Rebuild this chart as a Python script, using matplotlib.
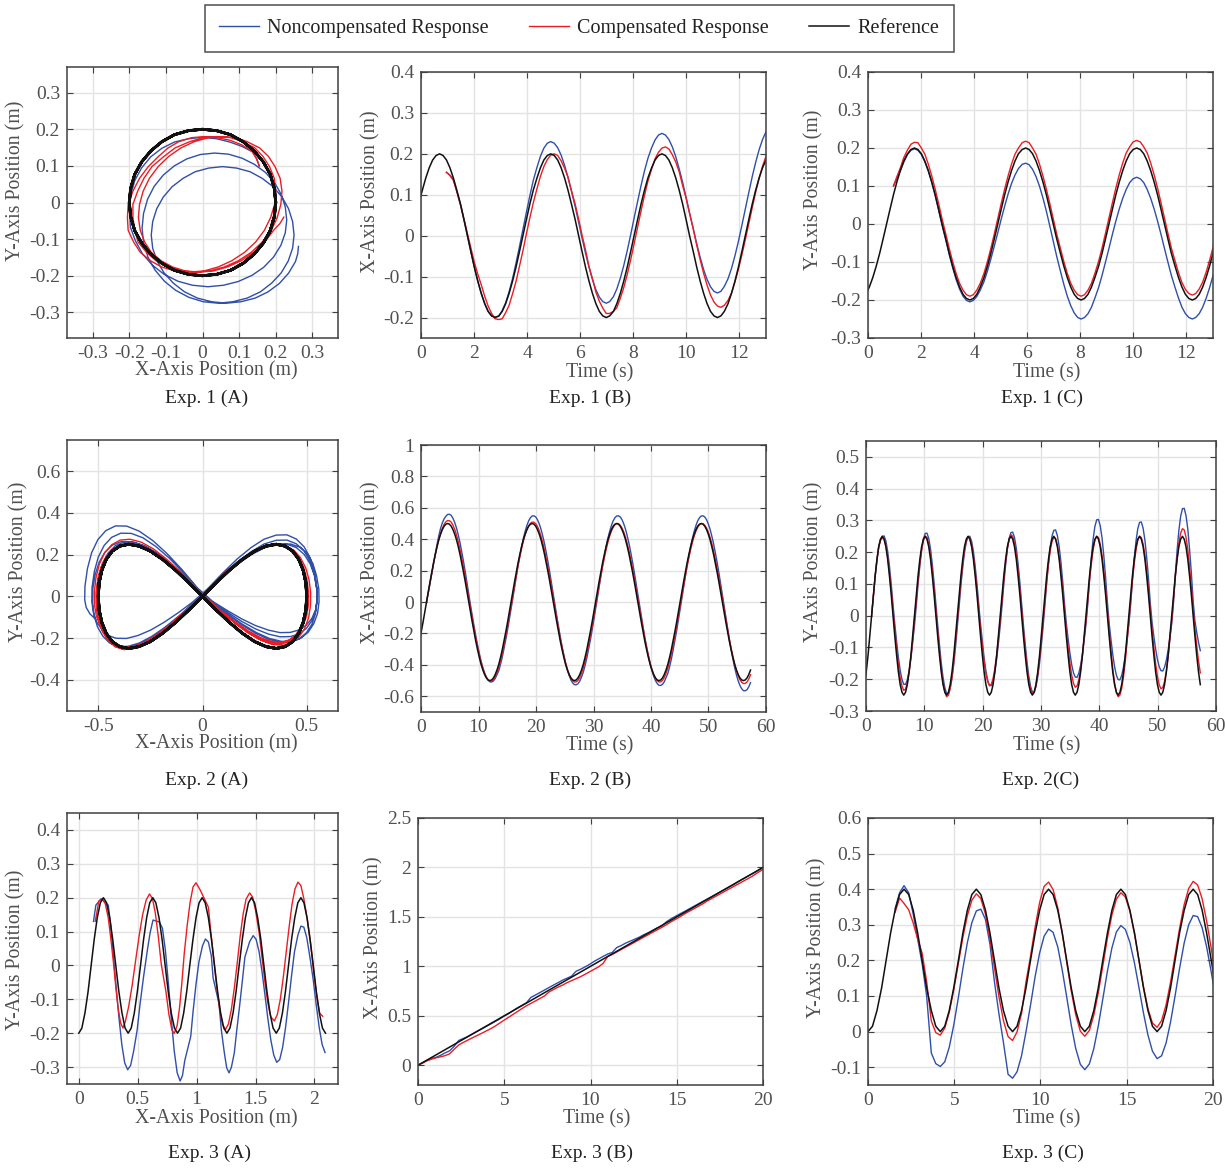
import numpy as np
import matplotlib
matplotlib.use("Agg")
import matplotlib.pyplot as plt
from matplotlib.ticker import FormatStrFormatter

plt.rcParams['font.family'] = ['Liberation Serif', 'DejaVu Serif']
plt.rcParams['axes.unicode_minus'] = False

BLUE = '#2f4fa8'
RED = '#ec1c24'
BLACK = '#111111'
GREY = '#505050'

# ---------------- Exp. 1 : circle ----------------
t1 = [-0.09, 0.05, 0.18, 0.31, 0.44, 0.57,
      0.70, 0.83, 0.96, 1.09, 1.22, 1.35, 1.49, 1.62, 1.75, 1.88,
      2.01, 2.14, 2.27, 2.40, 2.53, 2.66, 2.79, 2.93, 3.06, 3.19,
      3.32, 3.45, 3.58, 3.71, 3.84, 3.97, 4.10, 4.23, 4.37, 4.50,
      4.63, 4.76, 4.89, 5.02, 5.15, 5.28, 5.41, 5.54, 5.67, 5.81,
      5.94, 6.07, 6.20, 6.33, 6.46, 6.59, 6.72, 6.85, 6.98, 7.11,
      7.25, 7.38, 7.51, 7.64, 7.77, 7.90, 8.03, 8.16, 8.29, 8.42,
      8.55, 8.69, 8.82, 8.95, 9.08, 9.21, 9.34, 9.47, 9.60, 9.73,
      9.86, 9.99, 10.12, 10.26, 10.39, 10.52, 10.65, 10.78, 10.91, 11.04,
      11.17, 11.30, 11.43, 11.57, 11.70, 11.83, 11.96, 12.09, 12.22, 12.35,
      12.48, 12.61, 12.74, 12.87, 13.00, 13.14, 13.27]
x1_ref = [0.077, 0.111, 0.141, 0.166, 0.185, 0.196,
          0.2, 0.196, 0.185, 0.166, 0.141, 0.111, 0.077, 0.039, 0, -0.039, -0.077, -0.111, -0.141, -0.166, -0.185, -0.196,
          -0.2, -0.196, -0.185, -0.166, -0.141, -0.111, -0.077, -0.039, 0, 0.039, 0.077, 0.111, 0.141, 0.166, 0.185, 0.196,
          0.2, 0.196, 0.185, 0.166, 0.141, 0.111, 0.077, 0.039, 0, -0.039, -0.077, -0.111, -0.141, -0.166, -0.185, -0.196,
          -0.2, -0.196, -0.185, -0.166, -0.141, -0.111, -0.077, -0.039, 0, 0.039, 0.077, 0.111, 0.141, 0.166, 0.185, 0.196,
          0.2, 0.196, 0.185, 0.166, 0.141, 0.111, 0.077, 0.039, 0, -0.039, -0.077, -0.111, -0.141, -0.166, -0.185, -0.196,
          -0.2, -0.196, -0.185, -0.166, -0.141, -0.111, -0.077, -0.039, 0, 0.039, 0.077, 0.111, 0.141, 0.166, 0.185, 0.196,
          0.2]
y1_ref = [-0.185, -0.166, -0.141, -0.111, -0.077, -0.039,
          0, 0.039, 0.077, 0.111, 0.141, 0.166, 0.185, 0.196, 0.2, 0.196, 0.185, 0.166, 0.141, 0.111, 0.077, 0.039,
          0, -0.039, -0.077, -0.111, -0.141, -0.166, -0.185, -0.196, -0.2, -0.196, -0.185, -0.166, -0.141, -0.111, -0.077, -0.039,
          0, 0.039, 0.077, 0.111, 0.141, 0.166, 0.185, 0.196, 0.2, 0.196, 0.185, 0.166, 0.141, 0.111, 0.077, 0.039,
          0, -0.039, -0.077, -0.111, -0.141, -0.166, -0.185, -0.196, -0.2, -0.196, -0.185, -0.166, -0.141, -0.111, -0.077, -0.039,
          0, 0.039, 0.077, 0.111, 0.141, 0.166, 0.185, 0.196, 0.2, 0.196, 0.185, 0.166, 0.141, 0.111, 0.077, 0.039,
          0, -0.039, -0.077, -0.111, -0.141, -0.166, -0.185, -0.196, -0.2, -0.196, -0.185, -0.166, -0.141, -0.111, -0.077, -0.039,
          0]
x1_comp = [0.155, 0.147, 0.135, 0.108, 0.075, 0.04, 0.005, -0.03, -0.065, -0.094,
           -0.12, -0.148, -0.172, -0.19, -0.203, -0.205, -0.203, -0.188, -0.17, -0.142,
           -0.112, -0.075, -0.037, 0.004, 0.043, 0.08, 0.115, 0.145, 0.169, 0.186,
           0.197, 0.2, 0.196, 0.183, 0.165, 0.143, 0.11, 0.077, 0.04, 0.001,
           -0.035, -0.075, -0.105, -0.138, -0.16, -0.177, -0.19, -0.19, -0.185, -0.176,
           -0.153, -0.127, -0.095, -0.059, -0.02, 0.02, 0.06, 0.098, 0.133, 0.163,
           0.188, 0.204, 0.214, 0.217, 0.212, 0.198, 0.18, 0.156, 0.122, 0.092,
           0.055, 0.016, -0.023, -0.059, -0.092, -0.121, -0.145, -0.162, -0.172, -0.175,
           -0.17, -0.158, -0.14, -0.113, -0.082, -0.047, -0.01, 0.029, 0.068, 0.106,
           0.14, 0.17, 0.194, 0.211, 0.222]
x1_nc = [0.155, 0.148, 0.137, 0.108, 0.075, 0.039, 0.0, -0.039, -0.077, -0.111,
         -0.141, -0.166, -0.185, -0.196, -0.199, -0.197, -0.183, -0.164, -0.137, -0.105,
         -0.067, -0.027, 0.015, 0.057, 0.097, 0.135, 0.167, 0.194, 0.214, 0.226,
         0.23, 0.226, 0.215, 0.197, 0.172, 0.142, 0.108, 0.071, 0.033, -0.006,
         -0.043, -0.077, -0.107, -0.132, -0.15, -0.161, -0.165, -0.161, -0.149, -0.13,
         -0.104, -0.073, -0.037, 0.002, 0.043, 0.083, 0.122, 0.158, 0.189, 0.215,
         0.234, 0.246, 0.25, 0.246, 0.235, 0.217, 0.193, 0.163, 0.13, 0.093,
         0.055, 0.017, -0.02, -0.053, -0.083, -0.107, -0.125, -0.136, -0.14, -0.136,
         -0.124, -0.105, -0.08, -0.049, -0.014, 0.025, 0.065, 0.105, 0.144, 0.179,
         0.21, 0.235, 0.254, 0.26, 0.262]
y1_comp = [0.10, 0.125, 0.148, 0.175, 0.195, 0.21, 0.215, 0.214, 0.2, 0.184,
           0.158, 0.127, 0.092, 0.054, 0.014, -0.026, -0.064, -0.099, -0.13, -0.156,
           -0.174, -0.186, -0.19, -0.186, -0.174, -0.156, -0.13, -0.099, -0.064, -0.026,
           0.014, 0.054, 0.092, 0.127, 0.158, 0.184, 0.2, 0.214, 0.218, 0.214,
           0.2, 0.184, 0.158, 0.127, 0.092, 0.054, 0.014, -0.026, -0.064, -0.099,
           -0.13, -0.156, -0.174, -0.186, -0.19, -0.186, -0.174, -0.156, -0.13, -0.098,
           -0.063, -0.024, 0.016, 0.056, 0.095, 0.13, 0.161, 0.187, 0.203, 0.216,
           0.22, 0.216, 0.203, 0.187, 0.161, 0.13, 0.095, 0.056, 0.016, -0.024,
           -0.063, -0.097, -0.128, -0.154, -0.172, -0.183, -0.187, -0.183, -0.171, -0.153,
           -0.127, -0.096, -0.062, -0.023, 0.017]
y1_nc = [0.10, 0.12, 0.14, 0.163, 0.183, 0.194, 0.198, 0.194, 0.183, 0.164,
         0.14, 0.11, 0.076, 0.037, -0.003, -0.042, -0.08, -0.115, -0.146, -0.171,
         -0.19, -0.201, -0.205, -0.201, -0.191, -0.174, -0.152, -0.124, -0.092, -0.058,
         -0.023, 0.013, 0.047, 0.079, 0.107, 0.129, 0.146, 0.157, 0.16, 0.156,
         0.144, 0.125, 0.1, 0.069, 0.034, -0.005, -0.045, -0.085, -0.124, -0.159,
         -0.19, -0.215, -0.234, -0.246, -0.25, -0.246, -0.236, -0.219, -0.195, -0.167,
         -0.135, -0.1, -0.064, -0.027, 0.008, 0.04, 0.068, 0.091, 0.109, 0.119,
         0.123, 0.119, 0.109, 0.091, 0.068, 0.04, 0.008, -0.027, -0.064, -0.1,
         -0.135, -0.167, -0.195, -0.219, -0.236, -0.246, -0.25, -0.246, -0.236, -0.219,
         -0.196, -0.168, -0.136, -0.101, -0.065]
# Y values as they appear in the trajectory plot (A)
y1a_comp = [0.10, 0.12, 0.14, 0.157, 0.17, 0.177, 0.18, 0.177, 0.166, 0.149,
            0.126, 0.098, 0.066, 0.031, -0.005, -0.041, -0.076, -0.108, -0.136, -0.159,
            -0.176, -0.187, -0.19, -0.187, -0.176, -0.159, -0.136, -0.108, -0.076, -0.041,
            -0.005, 0.031, 0.066, 0.098, 0.126, 0.149, 0.166, 0.177, 0.18, 0.177,
            0.166, 0.149, 0.126, 0.098, 0.066, 0.031, -0.005, -0.041, -0.076, -0.108,
            -0.136, -0.159, -0.176, -0.187, -0.19, -0.187, -0.176, -0.159, -0.136, -0.108,
            -0.076, -0.041, -0.005, 0.031, 0.066, 0.098, 0.126, 0.149, 0.166, 0.177,
            0.18, 0.177, 0.166, 0.149, 0.126, 0.098, 0.066, 0.031, -0.005, -0.041,
            -0.076, -0.108, -0.136, -0.159, -0.176, -0.187, -0.19, -0.187, -0.176, -0.159,
            -0.136, -0.108, -0.076, -0.058, -0.04]
y1a_nc = [0.10, 0.12, 0.138, 0.153, 0.165, 0.174, 0.178, 0.174, 0.165, 0.148,
          0.125, 0.095, 0.06, 0.02, -0.02, -0.067, -0.105, -0.14, -0.171, -0.196,
          -0.215, -0.226, -0.23, -0.226, -0.216, -0.199, -0.177, -0.149, -0.117, -0.083,
          -0.048, -0.012, 0.022, 0.054, 0.082, 0.104, 0.121, 0.132, 0.135, 0.131,
          0.119, 0.1, 0.075, 0.044, 0.009, -0.03, -0.07, -0.11, -0.149, -0.184,
          -0.215, -0.24, -0.259, -0.271, -0.275, -0.271, -0.261, -0.244, -0.22, -0.192,
          -0.16, -0.125, -0.089, -0.052, -0.017, 0.015, 0.043, 0.066, 0.084, 0.094,
          0.098, 0.094, 0.084, 0.066, 0.043, 0.015, -0.017, -0.052, -0.089, -0.125,
          -0.16, -0.192, -0.22, -0.244, -0.261, -0.271, -0.275, -0.271, -0.261, -0.244,
          -0.221, -0.193, -0.161, -0.14, -0.12]

# ---------------- Exp. 2 : figure eight ----------------
t2 = [-0.27, 0.04, 0.35, 0.65,
      0.96, 1.27, 1.57, 1.88, 2.18, 2.49, 2.80, 3.10, 3.41, 3.72, 4.02, 4.33,
      4.63, 4.94, 5.25, 5.55, 5.86, 6.17, 6.47, 6.78, 7.08, 7.39, 7.70, 8.00,
      8.31, 8.62, 8.92, 9.23, 9.53, 9.84, 10.15, 10.45, 10.76, 11.07, 11.37, 11.68,
      11.98, 12.29, 12.60, 12.90, 13.21, 13.52, 13.82, 14.13, 14.43, 14.74, 15.05, 15.35,
      15.66, 15.97, 16.27, 16.58, 16.88, 17.19, 17.50, 17.80, 18.11, 18.42, 18.72, 19.03,
      19.33, 19.64, 19.95, 20.25, 20.56, 20.87, 21.17, 21.48, 21.78, 22.09, 22.40, 22.70,
      23.01, 23.32, 23.62, 23.93, 24.23, 24.54, 24.85, 25.15, 25.46, 25.77, 26.07, 26.38,
      26.68, 26.99, 27.30, 27.60, 27.91, 28.22, 28.52, 28.83, 29.13, 29.44, 29.75, 30.05,
      30.36, 30.67, 30.97, 31.28, 31.58, 31.89, 32.20, 32.50, 32.81, 33.12, 33.42, 33.73,
      34.03, 34.34, 34.65, 34.95, 35.26, 35.57, 35.87, 36.18, 36.48, 36.79, 37.10, 37.40,
      37.71, 38.02, 38.32, 38.63, 38.93, 39.24, 39.55, 39.85, 40.16, 40.47, 40.77, 41.08,
      41.38, 41.69, 42.00, 42.30, 42.61, 42.92, 43.22, 43.53, 43.83, 44.14, 44.45, 44.75,
      45.06, 45.37, 45.67, 45.98, 46.28, 46.59, 46.90, 47.20, 47.51, 47.82, 48.12, 48.43,
      48.73, 49.04, 49.35, 49.65, 49.96, 50.27, 50.57, 50.88, 51.18, 51.49, 51.80, 52.10,
      52.41, 52.72, 53.02, 53.33, 53.63, 53.94, 54.25, 54.55, 54.86, 55.17, 55.47, 55.78,
      56.08, 56.39, 56.70, 57.00, 57.31]
x2_ref = [-0.25, -0.191, -0.129, -0.065,
          0, 0.065, 0.129, 0.191, 0.25, 0.304, 0.354, 0.397, 0.433, 0.462, 0.483, 0.496,
          0.5, 0.496, 0.483, 0.462, 0.433, 0.397, 0.354, 0.304, 0.25, 0.191, 0.129, 0.065,
          0, -0.065, -0.129, -0.191, -0.25, -0.304, -0.354, -0.397, -0.433, -0.462, -0.483, -0.496,
          -0.5, -0.496, -0.483, -0.462, -0.433, -0.397, -0.354, -0.304, -0.25, -0.191, -0.129, -0.065,
          0, 0.065, 0.129, 0.191, 0.25, 0.304, 0.354, 0.397, 0.433, 0.462, 0.483, 0.496,
          0.5, 0.496, 0.483, 0.462, 0.433, 0.397, 0.354, 0.304, 0.25, 0.191, 0.129, 0.065,
          0, -0.065, -0.129, -0.191, -0.25, -0.304, -0.354, -0.397, -0.433, -0.462, -0.483, -0.496,
          -0.5, -0.496, -0.483, -0.462, -0.433, -0.397, -0.354, -0.304, -0.25, -0.191, -0.129, -0.065,
          0, 0.065, 0.129, 0.191, 0.25, 0.304, 0.354, 0.397, 0.433, 0.462, 0.483, 0.496,
          0.5, 0.496, 0.483, 0.462, 0.433, 0.397, 0.354, 0.304, 0.25, 0.191, 0.129, 0.065,
          0, -0.065, -0.129, -0.191, -0.25, -0.304, -0.354, -0.397, -0.433, -0.462, -0.483, -0.496,
          -0.5, -0.496, -0.483, -0.462, -0.433, -0.397, -0.354, -0.304, -0.25, -0.191, -0.129, -0.065,
          0, 0.065, 0.129, 0.191, 0.25, 0.304, 0.354, 0.397, 0.433, 0.462, 0.483, 0.496,
          0.5, 0.496, 0.483, 0.462, 0.433, 0.397, 0.354, 0.304, 0.25, 0.191, 0.129, 0.065,
          0, -0.065, -0.129, -0.191, -0.25, -0.304, -0.354, -0.397, -0.433, -0.462, -0.483, -0.496,
          -0.5, -0.496, -0.483, -0.462, -0.433]
y2_ref = [-0.217, -0.177, -0.125, -0.065,
          0, 0.065, 0.125, 0.177, 0.217, 0.241, 0.25, 0.241, 0.217, 0.177, 0.125, 0.065,
          0, -0.065, -0.125, -0.177, -0.217, -0.241, -0.25, -0.241, -0.217, -0.177, -0.125, -0.065,
          0, 0.065, 0.125, 0.177, 0.217, 0.241, 0.25, 0.241, 0.217, 0.177, 0.125, 0.065,
          0, -0.065, -0.125, -0.177, -0.217, -0.241, -0.25, -0.241, -0.217, -0.177, -0.125, -0.065,
          0, 0.065, 0.125, 0.177, 0.217, 0.241, 0.25, 0.241, 0.217, 0.177, 0.125, 0.065,
          0, -0.065, -0.125, -0.177, -0.217, -0.241, -0.25, -0.241, -0.217, -0.177, -0.125, -0.065,
          0, 0.065, 0.125, 0.177, 0.217, 0.241, 0.25, 0.241, 0.217, 0.177, 0.125, 0.065,
          0, -0.065, -0.125, -0.177, -0.217, -0.241, -0.25, -0.241, -0.217, -0.177, -0.125, -0.065,
          0, 0.065, 0.125, 0.177, 0.217, 0.241, 0.25, 0.241, 0.217, 0.177, 0.125, 0.065,
          0, -0.065, -0.125, -0.177, -0.217, -0.241, -0.25, -0.241, -0.217, -0.177, -0.125, -0.065,
          0, 0.065, 0.125, 0.177, 0.217, 0.241, 0.25, 0.241, 0.217, 0.177, 0.125, 0.065,
          0, -0.065, -0.125, -0.177, -0.217, -0.241, -0.25, -0.241, -0.217, -0.177, -0.125, -0.065,
          0, 0.065, 0.125, 0.177, 0.217, 0.241, 0.25, 0.241, 0.217, 0.177, 0.125, 0.065,
          0, -0.065, -0.125, -0.177, -0.217, -0.241, -0.25, -0.241, -0.217, -0.177, -0.125, -0.065,
          0, 0.065, 0.125, 0.177, 0.217, 0.241, 0.25, 0.241, 0.217, 0.177, 0.125, 0.065,
          0, -0.065, -0.125, -0.177, -0.217]
x2_nc = [0.0, 0.06, 0.12, 0.183, 0.245, 0.31, 0.37, 0.423, 0.47, 0.505, 0.53, 0.547,
         0.558, 0.559, 0.552, 0.534, 0.507, 0.472, 0.429, 0.379, 0.321, 0.259, 0.192, 0.121,
         0.049, -0.022, -0.089, -0.154, -0.216, -0.274, -0.328, -0.376, -0.418, -0.452, -0.479, -0.498,
         -0.508, -0.509, -0.502, -0.487, -0.462, -0.438, -0.398, -0.352, -0.298, -0.24, -0.178, -0.112,
         -0.045, 0.024, 0.096, 0.166, 0.233, 0.295, 0.354, 0.405, 0.45, 0.488, 0.517, 0.537,
         0.548, 0.549, 0.542, 0.525, 0.498, 0.464, 0.421, 0.372, 0.316, 0.254, 0.188, 0.119,
         0.048, -0.023, -0.092, -0.159, -0.223, -0.284, -0.34, -0.389, -0.432, -0.468, -0.496, -0.515,
         -0.526, -0.527, -0.52, -0.504, -0.478, -0.447, -0.406, -0.358, -0.304, -0.245, -0.181, -0.114,
         -0.046, 0.024, 0.096, 0.166, 0.233, 0.295, 0.354, 0.405, 0.45, 0.488, 0.517, 0.537,
         0.548, 0.549, 0.542, 0.525, 0.498, 0.464, 0.421, 0.372, 0.316, 0.254, 0.188, 0.119,
         0.048, -0.023, -0.093, -0.16, -0.225, -0.286, -0.342, -0.392, -0.436, -0.472, -0.5, -0.519,
         -0.53, -0.531, -0.524, -0.508, -0.482, -0.455, -0.414, -0.365, -0.31, -0.249, -0.185, -0.117,
         -0.048, 0.024, 0.096, 0.166, 0.233, 0.295, 0.354, 0.405, 0.45, 0.488, 0.517, 0.537,
         0.548, 0.549, 0.542, 0.525, 0.498, 0.464, 0.421, 0.372, 0.316, 0.254, 0.188, 0.119,
         0.048, -0.025, -0.098, -0.17, -0.239, -0.304, -0.364, -0.417, -0.464, -0.502, -0.532, -0.552,
         -0.564, -0.565, -0.558, -0.54, -0.513]
x2_comp = [0.0, 0.063, 0.125, 0.186, 0.245, 0.302, 0.355, 0.4, 0.44, 0.47, 0.495, 0.511,
           0.519, 0.518, 0.509, 0.49, 0.463, 0.428, 0.386, 0.337, 0.283, 0.224, 0.161, 0.095,
           0.027, -0.039, -0.105, -0.169, -0.229, -0.286, -0.338, -0.384, -0.424, -0.456, -0.48, -0.496,
           -0.505, -0.503, -0.494, -0.476, -0.45, -0.416, -0.375, -0.328, -0.275, -0.218, -0.156, -0.092,
           -0.026, 0.04, 0.106, 0.17, 0.232, 0.289, 0.341, 0.388, 0.428, 0.461, 0.485, 0.501,
           0.509, 0.508, 0.499, 0.481, 0.454, 0.42, 0.379, 0.331, 0.278, 0.22, 0.158, 0.093,
           0.027, -0.04, -0.106, -0.17, -0.232, -0.289, -0.341, -0.388, -0.428, -0.461, -0.485, -0.501,
           -0.509, -0.508, -0.499, -0.481, -0.454, -0.42, -0.379, -0.331, -0.278, -0.22, -0.158, -0.093,
           -0.026, 0.039, 0.104, 0.167, 0.227, 0.283, 0.335, 0.38, 0.42, 0.452, 0.476, 0.492,
           0.5, 0.499, 0.489, 0.472, 0.446, 0.412, 0.372, 0.325, 0.273, 0.216, 0.155, 0.091,
           0.026, -0.04, -0.106, -0.17, -0.232, -0.289, -0.341, -0.388, -0.428, -0.461, -0.485, -0.501,
           -0.509, -0.508, -0.499, -0.481, -0.454, -0.42, -0.379, -0.331, -0.278, -0.22, -0.158, -0.093,
           -0.026, 0.039, 0.104, 0.167, 0.227, 0.283, 0.335, 0.38, 0.42, 0.452, 0.476, 0.492,
           0.5, 0.499, 0.489, 0.472, 0.446, 0.412, 0.372, 0.325, 0.273, 0.216, 0.155, 0.091,
           0.026, -0.041, -0.108, -0.174, -0.236, -0.294, -0.348, -0.395, -0.436, -0.47, -0.495, -0.511,
           -0.519, -0.518, -0.509, -0.49, -0.463]
y2_nc = [0.0, 0.065, 0.125, 0.177, 0.217, 0.241, 0.25, 0.251, 0.235, 0.202, 0.156, 0.099,
         0.035, -0.027, -0.082, -0.131, -0.172, -0.201, -0.216, -0.216, -0.202, -0.174, -0.134, -0.085,
         -0.03, 0.032, 0.098, 0.158, 0.206, 0.241, 0.259, 0.26, 0.243, 0.209, 0.161, 0.102,
         0.036, -0.03, -0.093, -0.149, -0.195, -0.227, -0.245, -0.245, -0.229, -0.197, -0.152, -0.097,
         -0.034, 0.031, 0.095, 0.152, 0.199, 0.232, 0.249, 0.25, 0.234, 0.201, 0.155, 0.099,
         0.035, -0.027, -0.083, -0.134, -0.175, -0.204, -0.22, -0.22, -0.206, -0.177, -0.137, -0.087,
         -0.031, 0.032, 0.099, 0.16, 0.209, 0.244, 0.262, 0.263, 0.246, 0.212, 0.163, 0.104,
         0.037, -0.03, -0.091, -0.146, -0.191, -0.223, -0.24, -0.24, -0.224, -0.193, -0.149, -0.095,
         -0.034, 0.033, 0.102, 0.164, 0.214, 0.251, 0.269, 0.27, 0.252, 0.217, 0.168, 0.106,
         0.038, -0.024, -0.073, -0.117, -0.154, -0.18, -0.193, -0.194, -0.181, -0.156, -0.12, -0.076,
         -0.027, 0.037, 0.114, 0.184, 0.24, 0.281, 0.302, 0.303, 0.283, 0.244, 0.188, 0.119,
         0.042, -0.025, -0.076, -0.122, -0.16, -0.187, -0.201, -0.202, -0.188, -0.162, -0.125, -0.079,
         -0.028, 0.036, 0.111, 0.179, 0.234, 0.274, 0.294, 0.295, 0.275, 0.237, 0.183, 0.116,
         0.041, -0.021, -0.066, -0.105, -0.138, -0.161, -0.173, -0.174, -0.162, -0.14, -0.108, -0.068,
         -0.024, 0.041, 0.128, 0.205, 0.268, 0.313, 0.337, 0.338, 0.315, 0.272, 0.209, 0.133,
         0.047, -0.017, -0.053, -0.084, -0.11]
y2_comp = [0.0, 0.065, 0.125, 0.175, 0.217, 0.237, 0.245, 0.241, 0.22, 0.185, 0.137, 0.08,
           0.017, -0.045, -0.103, -0.154, -0.195, -0.222, -0.235, -0.231, -0.211, -0.177, -0.131, -0.077,
           -0.016, 0.048, 0.11, 0.164, 0.207, 0.237, 0.25, 0.246, 0.225, 0.189, 0.14, 0.082,
           0.018, -0.049, -0.112, -0.167, -0.211, -0.241, -0.255, -0.25, -0.229, -0.193, -0.143, -0.083,
           -0.018, 0.047, 0.109, 0.163, 0.206, 0.235, 0.248, 0.244, 0.223, 0.187, 0.139, 0.081,
           0.017, -0.042, -0.096, -0.144, -0.182, -0.208, -0.22, -0.216, -0.198, -0.166, -0.123, -0.072,
           -0.015, 0.049, 0.112, 0.167, 0.211, 0.241, 0.255, 0.25, 0.229, 0.193, 0.143, 0.083,
           0.018, -0.047, -0.107, -0.161, -0.203, -0.232, -0.245, -0.241, -0.22, -0.185, -0.137, -0.08,
           -0.017, 0.047, 0.108, 0.162, 0.205, 0.234, 0.247, 0.243, 0.222, 0.186, 0.138, 0.081,
           0.017, -0.043, -0.099, -0.148, -0.187, -0.213, -0.225, -0.221, -0.202, -0.17, -0.126, -0.073,
           -0.016, 0.048, 0.11, 0.164, 0.207, 0.237, 0.25, 0.246, 0.225, 0.189, 0.14, 0.082,
           0.018, -0.049, -0.112, -0.167, -0.211, -0.241, -0.255, -0.25, -0.229, -0.193, -0.143, -0.083,
           -0.018, 0.048, 0.11, 0.164, 0.207, 0.237, 0.25, 0.246, 0.225, 0.189, 0.14, 0.082,
           0.018, -0.044, -0.101, -0.151, -0.191, -0.218, -0.23, -0.226, -0.207, -0.174, -0.129, -0.075,
           -0.016, 0.053, 0.12, 0.18, 0.228, 0.26, 0.274, 0.27, 0.247, 0.208, 0.154, 0.09,
           0.019, -0.041, -0.095, -0.142, -0.18]

# ---------------- Exp. 3 : sine along a line ----------------
t3 = [0.00, 0.26, 0.52, 0.79, 1.05, 1.31, 1.57, 1.83, 2.09, 2.36,
      2.62, 2.88, 3.14, 3.40, 3.67, 3.93, 4.19, 4.45, 4.71, 4.97,
      5.24, 5.50, 5.76, 6.02, 6.28, 6.54, 6.81, 7.07, 7.33, 7.59,
      7.85, 8.12, 8.38, 8.64, 8.90, 9.16, 9.42, 9.69, 9.95, 10.21,
      10.47, 10.73, 11.00, 11.26, 11.52, 11.78, 12.04, 12.31, 12.57, 12.83,
      13.09, 13.35, 13.61, 13.88, 14.14, 14.40, 14.66, 14.92, 15.18, 15.45,
      15.71, 15.97, 16.23, 16.49, 16.76, 17.02, 17.28, 17.54, 17.80, 18.06,
      18.33, 18.59, 18.85, 19.11, 19.37, 19.63, 19.90, 20.16, 20.42, 20.68,
      20.94]
x3_ref = [0.0, 0.026, 0.052, 0.079, 0.105, 0.131, 0.157, 0.183, 0.209, 0.236,
          0.262, 0.288, 0.314, 0.34, 0.367, 0.393, 0.419, 0.445, 0.471, 0.497,
          0.524, 0.55, 0.576, 0.602, 0.628, 0.654, 0.681, 0.707, 0.733, 0.759,
          0.785, 0.812, 0.838, 0.864, 0.89, 0.916, 0.942, 0.969, 0.995, 1.021,
          1.047, 1.073, 1.1, 1.126, 1.152, 1.178, 1.204, 1.231, 1.257, 1.283,
          1.309, 1.335, 1.361, 1.388, 1.414, 1.44, 1.466, 1.492, 1.518, 1.545,
          1.571, 1.597, 1.623, 1.649, 1.676, 1.702, 1.728, 1.754, 1.78, 1.806,
          1.833, 1.859, 1.885, 1.911, 1.937, 1.963, 1.99, 2.016, 2.042, 2.068,
          2.094]
x3_comp = [0.0, 0.022, 0.045, 0.062, 0.075, 0.085, 0.097, 0.115, 0.16, 0.205,
           0.23, 0.253, 0.276, 0.298, 0.321, 0.344, 0.367, 0.393, 0.423, 0.453,
           0.483, 0.513, 0.542, 0.572, 0.6, 0.625, 0.65, 0.675, 0.7, 0.74,
           0.765, 0.79, 0.81, 0.835, 0.855, 0.875, 0.895, 0.92, 0.945, 0.97,
           0.995, 1.03, 1.1, 1.12, 1.145, 1.17, 1.195, 1.22, 1.245, 1.27,
           1.295, 1.32, 1.345, 1.37, 1.395, 1.42, 1.45, 1.475, 1.5, 1.53,
           1.555, 1.58, 1.605, 1.63, 1.66, 1.685, 1.71, 1.735, 1.76, 1.785,
           1.81, 1.835, 1.86, 1.885, 1.91, 1.94, 1.97, 1.995, 2.02, 2.045,
           2.07]
x3_nc = [0.0, 0.024, 0.048, 0.067, 0.08, 0.1, 0.125, 0.145, 0.19, 0.25,
         0.27, 0.29, 0.315, 0.34, 0.365, 0.39, 0.415, 0.44, 0.465, 0.495,
         0.52, 0.55, 0.58, 0.605, 0.63, 0.685, 0.71, 0.735, 0.76, 0.785,
         0.81, 0.835, 0.86, 0.88, 0.9, 0.95, 0.97, 0.995, 1.02, 1.05,
         1.075, 1.1, 1.125, 1.14, 1.19, 1.21, 1.235, 1.255, 1.275, 1.295,
         1.32, 1.34, 1.365, 1.39, 1.41, 1.45, 1.48, 1.505, 1.53, 1.555,
         1.58, 1.605, 1.63, 1.655, 1.68, 1.705, 1.73, 1.755, 1.78, 1.805,
         1.83, 1.86, 1.885, 1.91, 1.935, 1.96, 1.99, 2.015, 2.04, 2.065,
         2.09]
y3_ref = [0, 0.015, 0.059, 0.123, 0.2, 0.277, 0.341, 0.385, 0.4, 0.385, 0.341, 0.277, 0.2, 0.123, 0.059, 0.015,
          0, 0.015, 0.059, 0.123, 0.2, 0.277, 0.341, 0.385, 0.4, 0.385, 0.341, 0.277, 0.2, 0.123, 0.059, 0.015,
          0, 0.015, 0.059, 0.123, 0.2, 0.277, 0.341, 0.385, 0.4, 0.385, 0.341, 0.277, 0.2, 0.123, 0.059, 0.015,
          0, 0.015, 0.059, 0.123, 0.2, 0.277, 0.341, 0.385, 0.4, 0.385, 0.341, 0.277, 0.2, 0.123, 0.059, 0.015,
          0, 0.015, 0.059, 0.123, 0.2, 0.277, 0.341, 0.385, 0.4, 0.385, 0.341, 0.277, 0.2, 0.123, 0.059, 0.015,
          0]
y3_comp = [0.335, 0.375, 0.36, 0.342, 0.305, 0.26, 0.22, 0.14, 0.03, -0.003,
           -0.01, 0.01, 0.054, 0.117, 0.192, 0.265, 0.326, 0.369, 0.387, 0.374,
           0.33, 0.261, 0.18, 0.098, 0.031, -0.014, -0.025, -0.001, 0.051, 0.14,
           0.211, 0.294, 0.363, 0.408, 0.42, 0.399, 0.348, 0.277, 0.195, 0.115,
           0.048, 0.001, -0.013, 0.003, 0.046, 0.109, 0.184, 0.263, 0.328, 0.372,
           0.39, 0.378, 0.339, 0.274, 0.2, 0.126, 0.064, 0.024, 0.012, 0.031,
           0.075, 0.139, 0.214, 0.289, 0.357, 0.402, 0.422, 0.412, 0.373, 0.311,
           0.233, 0.153, 0.084, 0.035, 0.013]
y3_nc = [0.345, 0.39, 0.41, 0.39, 0.33, 0.26, 0.19, 0.1, -0.06, -0.09,
         -0.098, -0.085, -0.044, 0.018, 0.096, 0.177, 0.25, 0.306, 0.339, 0.344,
         0.315, 0.245, 0.14, 0.05, -0.03, -0.12, -0.131, -0.113, -0.068, 0.0,
         0.074, 0.155, 0.221, 0.268, 0.288, 0.279, 0.238, 0.173, 0.097, 0.019,
         -0.047, -0.092, -0.107, -0.091, -0.048, 0.016, 0.091, 0.17, 0.235, 0.28,
         0.298, 0.287, 0.251, 0.192, 0.123, 0.052, -0.01, -0.055, -0.076, -0.068,
         -0.032, 0.027, 0.1, 0.177, 0.249, 0.3, 0.326, 0.323, 0.292, 0.238,
         0.167, 0.094, 0.028, -0.023, -0.047]
# trajectory plot (A) of Exp. 3
y3a_ref = [-0.2, -0.185, -0.141, -0.077, 0, 0.077, 0.141, 0.185, 0.2, 0.185, 0.141, 0.077, 0, -0.077, -0.141, -0.185,
           -0.2, -0.185, -0.141, -0.077, 0, 0.077, 0.141, 0.185, 0.2, 0.185, 0.141, 0.077, 0, -0.077, -0.141, -0.185,
           -0.2, -0.185, -0.141, -0.077, 0, 0.077, 0.141, 0.185, 0.2, 0.185, 0.141, 0.077, 0, -0.077, -0.141, -0.185,
           -0.2, -0.185, -0.141, -0.077, 0, 0.077, 0.141, 0.185, 0.2, 0.185, 0.141, 0.077, 0, -0.077, -0.141, -0.185,
           -0.2, -0.185, -0.141, -0.077, 0, 0.077, 0.141, 0.185, 0.2, 0.185, 0.141, 0.077, 0, -0.077, -0.141, -0.185,
           -0.2]
x3a_comp = [0.14, 0.17, 0.198, 0.225, 0.25, 0.272, 0.295, 0.315, 0.335, 0.355,
            0.375, 0.395, 0.423, 0.453, 0.483, 0.513, 0.542, 0.572, 0.6, 0.625,
            0.65, 0.675, 0.7, 0.74, 0.765, 0.79, 0.81, 0.835, 0.855, 0.875,
            0.895, 0.92, 0.945, 0.97, 0.995, 1.03, 1.1, 1.12, 1.145, 1.17,
            1.195, 1.22, 1.245, 1.27, 1.295, 1.32, 1.345, 1.37, 1.395, 1.42,
            1.45, 1.475, 1.5, 1.53, 1.555, 1.58, 1.605, 1.63, 1.66, 1.685,
            1.71, 1.735, 1.76, 1.785, 1.81, 1.835, 1.86, 1.885, 1.91, 1.94,
            1.97, 1.995, 2.02, 2.045, 2.07]
y3a_comp = [0.13, 0.19, 0.197, 0.182, 0.141, 0.079, 0.006, -0.067, -0.129, -0.17,
            -0.185, -0.166, -0.122, -0.059, 0.016, 0.089, 0.15, 0.193, 0.211, 0.198,
            0.154, 0.085, 0.004, -0.078, -0.145, -0.19, -0.201, -0.177, -0.125, -0.051,
            0.035, 0.118, 0.187, 0.232, 0.244, 0.223, 0.172, 0.101, 0.019, -0.061,
            -0.128, -0.175, -0.189, -0.173, -0.13, -0.067, 0.008, 0.087, 0.152, 0.196,
            0.214, 0.202, 0.163, 0.098, 0.024, -0.05, -0.112, -0.152, -0.164, -0.145,
            -0.101, -0.037, 0.038, 0.113, 0.181, 0.226, 0.246, 0.236, 0.197, 0.135,
            0.057, -0.023, -0.092, -0.141, -0.15]
y3a_nc = [0.13, 0.178, 0.197, 0.178, 0.123, 0.041, -0.055, -0.151, -0.233, -0.288,
          -0.308, -0.295, -0.254, -0.192, -0.114, -0.033, 0.04, 0.096, 0.134, 0.128,
          0.11, 0.045, -0.051, -0.156, -0.252, -0.317, -0.341, -0.325, -0.28, -0.21,
          -0.136, -0.055, 0.011, 0.058, 0.078, 0.069, 0.028, -0.037, -0.113, -0.191,
          -0.257, -0.302, -0.317, -0.301, -0.258, -0.194, -0.119, -0.04, 0.025, 0.07,
          0.088, 0.077, 0.041, -0.018, -0.087, -0.158, -0.22, -0.265, -0.286, -0.278,
          -0.242, -0.183, -0.11, -0.033, 0.039, 0.09, 0.116, 0.113, 0.082, 0.028,
          -0.043, -0.116, -0.182, -0.233, -0.257]

LABELS = ['Noncompensated Response', 'Compensated Response', 'Reference']

# sanity check on hand-typed series lengths
for name, arr, n in [('x1_ref', x1_ref, len(t1)), ('y1_ref', y1_ref, len(t1)),
                     ('x1_comp', x1_comp, 95), ('x1_nc', x1_nc, 95), ('y1_comp', y1_comp, 95),
                     ('y1_nc', y1_nc, 95), ('y1a_comp', y1a_comp, 95), ('y1a_nc', y1a_nc, 95),
                     ('x2_ref', x2_ref, len(t2)), ('y2_ref', y2_ref, len(t2)),
                     ('x2_nc', x2_nc, 185), ('x2_comp', x2_comp, 185), ('y2_nc', y2_nc, 185),
                     ('y2_comp', y2_comp, 185), ('x3_ref', x3_ref, len(t3)), ('x3_comp', x3_comp, len(t3)),
                     ('x3_nc', x3_nc, len(t3)), ('y3_ref', y3_ref, len(t3)), ('y3a_ref', y3a_ref, len(t3)),
                     ('y3_comp', y3_comp, 75), ('y3_nc', y3_nc, 75), ('x3a_comp', x3a_comp, 75),
                     ('y3a_comp', y3a_comp, 75), ('y3a_nc', y3a_nc, 75)]:
    if len(arr) != n:
        raise ValueError(f'{name}: {len(arr)} != {n}')

W, H = 1225, 1168
fig = plt.figure(figsize=(W / 100, H / 100), dpi=100)


def panel(box, xlim, ylim, xticks, yticks, xlabel, ylabel, xl_pos, yl_pos, caption, cap_xy):
    l, t, r, b = box
    ax = fig.add_axes([l / W, 1 - b / H, (r - l) / W, (b - t) / H])
    ax.set_xlim(*xlim)
    ax.set_ylim(*ylim)
    ax.set_xticks(xticks)
    ax.set_yticks(yticks)
    ax.xaxis.set_major_formatter(FormatStrFormatter('%g'))
    ax.yaxis.set_major_formatter(FormatStrFormatter('%g'))
    ax.grid(True, color='#e3e3e3', linewidth=1.0)
    ax.set_axisbelow(True)
    ax.tick_params(direction='in', length=4, width=0.8, top=True, right=True,
                   colors='#404040', labelcolor=GREY, labelsize=14, pad=5)
    for s in ax.spines.values():
        s.set_color('#404040')
        s.set_linewidth(1.1)
    ax.set_xlabel(xlabel, fontsize=14.3, color=GREY, va='center')
    ax.xaxis.set_label_coords(*xl_pos)
    ax.set_ylabel(ylabel, fontsize=14.3, color=GREY, va='center')
    ax.yaxis.set_label_coords(*yl_pos)
    fig.text(cap_xy[0] / W, 1 - cap_xy[1] / H, caption, ha='center', va='center',
             fontsize=14, color='#222222')
    return ax


def ticks(a, b, step):
    return np.round(np.arange(a, b + step / 2, step), 2)


XP, YP, TS = 'X-Axis Position (m)', 'Y-Axis Position (m)', 'Time (s)'

# row 1
ax = panel((67, 67, 338, 338), (-0.37, 0.37), (-0.37, 0.37), ticks(-0.3, 0.3, 0.1), ticks(-0.3, 0.3, 0.1),
           XP, YP, (0.55, -0.12), (-0.19, 0.579), 'Exp. 1 (A)', (207, 398))
ax.plot(x1_nc, y1a_nc, color=BLUE, lw=1.0)
ax.plot(x1_comp, y1a_comp, color=RED, lw=1.0)
ax.plot(x1_ref, y1_ref, color=BLACK, lw=2.0)

ax = panel((421, 72, 766, 338), (0, 13), (-0.25, 0.4), ticks(0, 12, 2), ticks(-0.2, 0.4, 0.1),
           TS, XP, (0.519, -0.13), (-0.145, 0.549), 'Exp. 1 (B)', (590, 398))
h_nc, = ax.plot(t1[-len(x1_nc):], x1_nc, color=BLUE, lw=1.0)
h_comp, = ax.plot(t1[-len(x1_comp):], x1_comp, color=RED, lw=1.0)
h_ref, = ax.plot(t1, x1_ref, color=BLACK, lw=1.1)

ax = panel((868, 72, 1213, 338), (0, 13), (-0.3, 0.4), ticks(0, 12, 2), ticks(-0.3, 0.4, 0.1),
           TS, YP, (0.519, -0.13), (-0.157, 0.556), 'Exp. 1 (C)', (1042, 398))
ax.plot(t1[-len(y1_nc):], y1_nc, color=BLUE, lw=1.0)
ax.plot(t1[-len(y1_comp):], y1_comp, color=RED, lw=1.0)
ax.plot(t1, y1_ref, color=BLACK, lw=1.1)

# row 2
ax = panel((67, 440, 338, 711), (-0.65, 0.65), (-0.55, 0.75), [-0.5, 0, 0.5], ticks(-0.4, 0.6, 0.2),
           XP, YP, (0.55, -0.12), (-0.178, 0.55), 'Exp. 2 (A)', (207, 780))
ax.plot(x2_nc, y2_nc, color=BLUE, lw=1.0)
ax.plot(x2_comp, y2_comp, color=RED, lw=1.0)
ax.plot(x2_ref, y2_ref, color=BLACK, lw=2.0)

ax = panel((421, 445, 766, 712), (0, 60), (-0.7, 1.0), ticks(0, 60, 10), ticks(-0.6, 1.0, 0.2),
           TS, XP, (0.519, -0.126), (-0.145, 0.558), 'Exp. 2 (B)', (590, 780))
ax.plot(t2[-len(x2_nc):], x2_nc, color=BLUE, lw=1.0)
ax.plot(t2[-len(x2_comp):], x2_comp, color=RED, lw=1.0)
ax.plot(t2, x2_ref, color=BLACK, lw=1.1)

ax = panel((866, 441, 1216, 711), (0, 60), (-0.3, 0.55), ticks(0, 60, 10), ticks(-0.3, 0.5, 0.1),
           TS, YP, (0.517, -0.128), (-0.149, 0.552), 'Exp. 2(C)', (1041, 780))
ax.plot(t2[-len(y2_nc):], y2_nc, color=BLUE, lw=1.0)
ax.plot(t2[-len(y2_comp):], y2_comp, color=RED, lw=1.0)
ax.plot(t2, y2_ref, color=BLACK, lw=1.1)

# row 3
ax = panel((67, 813, 338, 1084), (-0.1, 2.2), (-0.35, 0.45), ticks(0, 2, 0.5), ticks(-0.3, 0.4, 0.1),
           XP, YP, (0.55, -0.127), (-0.19, 0.494), 'Exp. 3 (A)', (209, 1153))
ax.plot(x3_nc[-len(y3a_nc):], y3a_nc, color=BLUE, lw=1.0)
ax.plot(x3a_comp, y3a_comp, color=RED, lw=1.0)
ax.plot(x3_ref, y3a_ref, color=BLACK, lw=1.1)

ax = panel((418, 818, 763, 1085), (0, 20), (-0.2, 2.5), ticks(0, 20, 5), ticks(0, 2.5, 0.5),
           TS, XP, (0.519, -0.126), (-0.128, 0.55), 'Exp. 3 (B)', (592, 1153))
ax.plot(t3, x3_nc, color=BLUE, lw=1.0)
ax.plot(t3, x3_comp, color=RED, lw=1.0)
ax.plot(t3, x3_ref, color=BLACK, lw=1.1)

ax = panel((868, 818, 1213, 1085), (0, 20), (-0.15, 0.6), ticks(0, 20, 5), ticks(-0.1, 0.6, 0.1),
           TS, YP, (0.519, -0.126), (-0.148, 0.55), 'Exp. 3 (C)', (1043, 1153))
ax.plot(t3[-len(y3_nc):], y3_nc, color=BLUE, lw=1.0)
ax.plot(t3[-len(y3_comp):], y3_comp, color=RED, lw=1.0)
ax.plot(t3, y3_ref, color=BLACK, lw=1.1)

leg = fig.legend([h_nc, h_comp, h_ref], LABELS, loc='center',
                 bbox_to_anchor=(579 / W, 1 - 28.5 / H), ncol=3, fontsize=14.5,
                 frameon=True, fancybox=False, edgecolor='#222222',
                 handlelength=2.0, handletextpad=0.4, columnspacing=2.0, borderpad=0.7)
leg.get_frame().set_linewidth(1.1)
for txt in leg.get_texts():
    txt.set_color('#222222')

fig.savefig('out.png', dpi=100)
